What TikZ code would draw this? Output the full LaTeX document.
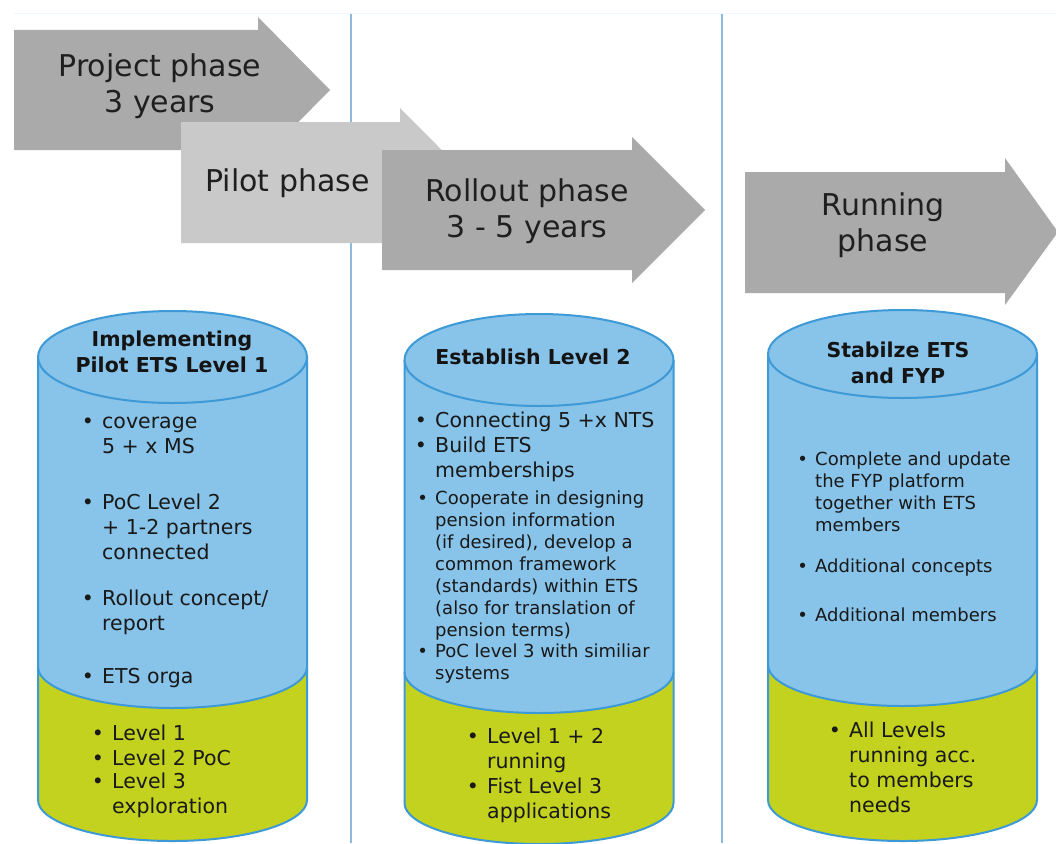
\documentclass[tikz,border=0pt]{standalone}
\usepackage{fontspec}
\setmainfont{DejaVu Sans}
\definecolor{arrowdark}{HTML}{AAAAAA}
\definecolor{arrowlight}{HTML}{C9C9C9}
\definecolor{cylblue}{HTML}{88C3E9}
\definecolor{cylgreen}{HTML}{C3D21E}
\definecolor{cylline}{HTML}{3D9AD6}
\definecolor{gridline}{HTML}{8DBBDD}
\newcommand{\bul}{\llap{\textbullet\hspace{0.4em}}}
% cylinder: centre x, top y, top radius y, split y, bottom y
\newcommand{\cylinder}[5]{%
  \fill[cylblue] (#1-134.5,#2) -- (#1-134.5,#4) arc (180:360:134.5 and 41) -- (#1+134.5,#2) -- cycle;
  \fill[cylgreen] (#1-134.5,#4) arc (180:360:134.5 and 41) -- (#1+134.5,#5) arc (0:-180:134.5 and 41) -- cycle;
  \draw[cylline, line width=2pt] (#1-134.5,#2) -- (#1-134.5,#5) arc (180:360:134.5 and 41) -- (#1+134.5,#2);
  \draw[cylline, line width=2pt] (#1-134.5,#4) arc (180:360:134.5 and 41);
  \draw[cylline, line width=2pt, fill=cylblue] (#1,#2) ellipse (134.5 and #3);
}
\begin{document}
\begin{tikzpicture}[x=1pt, y=1pt,
    phasetext/.style={align=center, text=black!88, font=\fontsize{30}{36}\selectfont},
    cyltitle/.style={align=center, text=black!92, font=\bfseries\fontsize{20.5}{26}\selectfont},
    item/.style={anchor=west, align=left, inner sep=0pt, text=black!90, font=\fontsize{20.5}{25}\selectfont},
    smallitem/.style={item, font=\fontsize{18}{22}\selectfont}]
	\useasboundingbox (0,0) rectangle (1056,-843);
	\fill[white] (0,0) rectangle (1056,-843);
	\draw[cyan!8, line width=1pt] (14,-14) -- (1056,-14);
	\draw[gridline, line width=1.3pt] (351,-14) -- (351,-843);
	\draw[gridline, line width=1.3pt] (722,-14) -- (722,-843);
	% phase arrows
	\fill[arrowdark] (14,-30) -- (258,-30) -- (258,-17) -- (330,-90) -- (258,-163) -- (258,-150) -- (14,-150) -- cycle;
	\fill[arrowlight] (181,-122) -- (400,-122) -- (400,-108) -- (474,-182.5) -- (400,-257) -- (400,-243) -- (181,-243) -- cycle;
	\fill[arrowdark] (382,-150) -- (632,-150) -- (632,-137) -- (705,-210) -- (632,-283) -- (632,-270) -- (382,-270) -- cycle;
	\fill[arrowdark] (745,-172) -- (1005,-172) -- (1005,-158) -- (1058,-232) -- (1005,-305) -- (1005,-293) -- (745,-293) -- cycle;
	\node[phasetext] (project) at (160,-86.5) {Project phase\\3 years};
	\node[phasetext] (pilot) at (287.5,-183) {Pilot phase};
	\node[phasetext] (rollout) at (527,-211.5) {Rollout phase\\3 - 5 years};
	\node[phasetext] (running) at (883,-225.5) {Running\\phase};
	% cylinders
	\cylinder{172.5}{-357}{46}{-667}{-800}
	\cylinder{539}{-360}{46}{-672}{-803}
	\cylinder{902.5}{-354}{44}{-665}{-800}
	% pilot
	\node[cyltitle] (pilottitle) at (172,-351.5) {Implementing\\Pilot ETS Level 1};
	\node[item] (cov) at (102,-435.5) {\bul coverage\\5 + x MS};
	\node[item] (poc) at (102,-527) {\bul PoC Level 2\\+ 1-2 partners\\connected};
	\node[item] (concept) at (102,-612.5) {\bul Rollout concept/\\report};
	\node[item] (orga) at (102,-678) {\bul ETS orga};
	\node[item] (lvla) at (112,-733) {\bul Level 1};
	\node[item] (lvlb) at (112,-758) {\bul Level 2 PoC};
	\node[item] (lvlc) at (112,-795.5) {\bul Level 3\\exploration};
	% rollout
	\node[cyltitle] (rollouttitle) at (533,-357) {Establish Level 2};
	\node[item] (connect) at (435,-422) {\bul Connecting 5 +x NTS};
	\node[item] (member) at (435,-459.5) {\bul Build ETS\\memberships};
	\node[smallitem] (coop) at (435,-566) {\bul Cooperate in designing\\pension information\\(if desired), develop a\\common framework\\(standards) within ETS\\(also for translation of\\pension terms)};
	\node[smallitem] (poclvl) at (435,-664) {\bul PoC level 3 with similiar\\systems};
	\node[item] (runlvl) at (487,-750) {\bul Level 1 + 2\\running};
	\node[item] (fist) at (487,-800) {\bul Fist Level 3\\applications};
	% running
	\node[cyltitle] (runningtitle) at (898,-362.5) {Stabilze ETS\\and FYP};
	\node[smallitem] (update) at (815,-491.5) {\bul Complete and update\\the FYP platform\\together with ETS\\members};
	\node[smallitem] (addcon) at (815,-568) {\bul Additional concepts};
	\node[smallitem] (addmem) at (815,-615) {\bul Additional members};
	\node[item] (alllvl) at (849,-767.5) {\bul All Levels\\running acc.\\to members\\needs};
\end{tikzpicture}
\end{document}
